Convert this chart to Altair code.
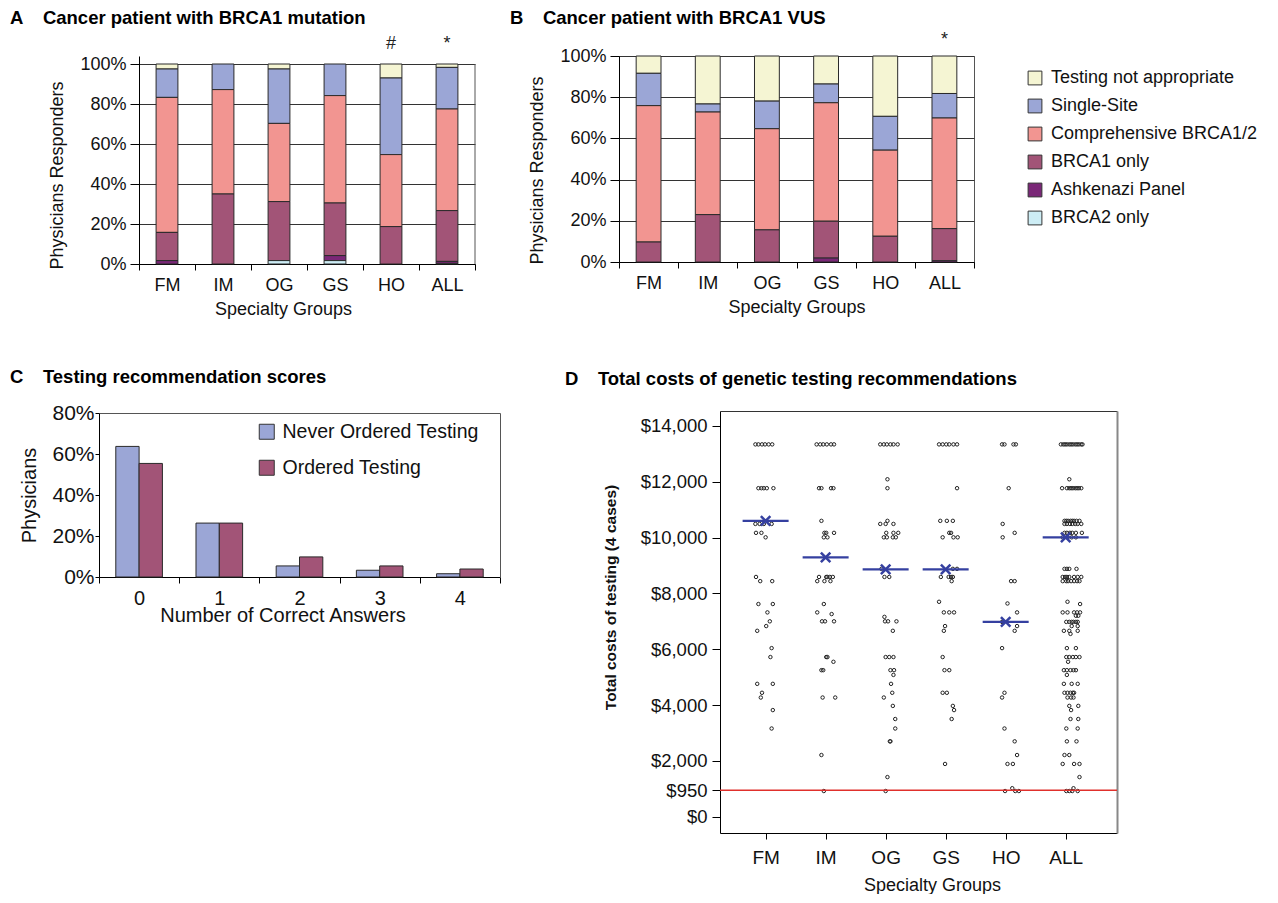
import altair as alt
import pandas as pd

FONT = "Liberation Sans"

# ---------------- shared categories ----------------
groups = ["FM", "IM", "OG", "GS", "HO", "ALL"]
test_types = ["Testing not appropriate", "Single-Site", "Comprehensive BRCA1/2",
              "BRCA1 only", "Ashkenazi Panel", "BRCA2 only"]
type_colors = ["#F5F5D3", "#9BA6D6", "#F29591", "#A25477", "#7A2777", "#CDEDF5"]
pct_ticks = [0, 20, 40, 60, 80, 100]

# ---------------- Panel A: BRCA1 mutation (% of responders) ----------------
a_not_appropriate = [2.5, 0.0, 2.5, 0.0, 7.0, 1.7]
a_single_site = [14.2, 12.8, 27.2, 15.8, 38.3, 20.8]
a_comprehensive = [67.5, 52.2, 39.1, 53.7, 36.0, 50.8]
a_brca1_only = [14.1, 35.0, 29.5, 26.3, 18.7, 25.4]
a_ashkenazi = [1.7, 0.0, 0.0, 2.5, 0.0, 1.0]
a_brca2_only = [0.0, 0.0, 1.7, 1.7, 0.0, 0.3]
a_notes = ["", "", "", "", "#", "*"]
a_note_level = 110

# ---------------- Panel B: BRCA1 VUS (% of responders) ----------------
b_not_appropriate = [8.4, 23.3, 21.9, 13.6, 29.3, 18.2]
b_single_site = [15.7, 3.9, 13.4, 9.1, 16.4, 11.9]
b_comprehensive = [66.2, 49.8, 49.1, 57.5, 41.8, 53.7]
b_brca1_only = [9.7, 23.0, 15.6, 17.9, 12.5, 15.6]
b_ashkenazi = [0.0, 0.0, 0.0, 1.9, 0.0, 0.6]
b_brca2_only = [0.0, 0.0, 0.0, 0.0, 0.0, 0.0]
b_notes = ["", "", "", "", "", "*"]
b_note_level = 108

# ---------------- Panel C: testing recommendation scores ----------------
scores = ["0", "1", "2", "3", "4"]
statuses = ["Never Ordered Testing", "Ordered Testing"]
status_colors = ["#9BA6D6", "#A25477"]
never_ordered = [63.7, 26.3, 5.4, 3.3, 1.6]
ordered = [55.4, 26.3, 9.8, 5.4, 3.9]
c_ticks = [0, 20, 40, 60, 80]

# ---------------- Panel D: total costs (value, horizontal jitter of each dot) ----------------
fm_rows = [(13340, [-0.17, -0.12, -0.06, -0.01, 0.05, 0.11]), (11770, [-0.12, -0.07, -0.03, 0.02, 0.13]),
           (10490, [-0.17, -0.10, -0.03, 0.10]), (10170, [-0.16, -0.07]), (10010, [0.0]), (8590, [-0.16]),
           (8440, [-0.09, 0.11]), (7620, [-0.12, 0.12]), (7320, [0.03]), (7000, [0.07]), (6830, [0.01]),
           (6660, [-0.14]), (6040, [0.10]), (5720, [0.08]), (4760, [-0.14, 0.12]), (4440, [-0.06]),
           (4270, [-0.08]), (3820, [0.12]), (3160, [0.10])]
im_rows = [(13340, [-0.15, -0.09, -0.04, 0.02, 0.09, 0.14]), (11770, [-0.11, -0.07, 0.09, 0.13]),
           (10600, [-0.07]), (10170, [-0.02, 0.01, 0.14]), (10010, [-0.03, 0.03]),
           (8590, [-0.11, 0.01, 0.03, 0.07, 0.12]), (8440, [-0.14, -0.02, 0.08]), (7620, [-0.03]),
           (7320, [-0.14]), (7260, [0.10]), (7000, [-0.06, -0.01, 0.14]), (5720, [0.01, 0.03]),
           (5550, [0.13]), (5250, [-0.07, -0.04]), (4270, [-0.05, 0.16]), (2210, [-0.07]), (920, [-0.03])]
og_rows = [(13340, [-0.09, -0.03, 0.02, 0.08, 0.13, 0.20]), (12090, [0.03]), (11770, [0.03]), (10600, [0.03]),
           (10490, [-0.09, 0.0, 0.13]), (10170, [0.01, 0.13, 0.21]), (10010, [-0.03, 0.02, 0.12, 0.17]),
           (8880, [-0.07]), (8590, [-0.02, 0.06]), (7160, [-0.02]), (7000, [-0.01, 0.04, 0.18]),
           (6660, [0.12]), (5720, [0.0, 0.06, 0.13]), (5250, [0.08, 0.14]), (5080, [0.13]), (4760, [0.09]),
           (4440, [0.11]), (4270, [-0.03]), (3970, [0.12]), (3500, [0.16]), (3160, [0.16]),
           (2700, [0.07, 0.08]), (1420, [0.03]), (920, [0.0])]
gs_rows = [(13340, [-0.11, -0.05, 0.01, 0.06, 0.13, 0.19]), (11770, [0.19]), (10600, [-0.09, 0.02, 0.12]),
           (10170, [0.06, 0.09]), (10010, [-0.05, 0.13, 0.20]), (8880, [0.12, 0.19]),
           (8590, [-0.08, 0.05, 0.09, 0.12]), (8440, [0.10]), (7700, [-0.11]), (7320, [-0.03, 0.06, 0.14]),
           (6830, [-0.01]), (6660, [-0.03]), (5720, [-0.05]), (5250, [-0.02, 0.06]), (4440, [-0.05, 0.02]),
           (3970, [0.12]), (3820, [0.14]), (3500, [0.10]), (1890, [-0.01])]
ho_rows = [(13340, [-0.06, -0.02, 0.13, 0.17]), (11770, [0.05]), (10490, [-0.05]), (10170, [0.15]),
           (10010, [-0.05]), (8440, [0.09, 0.15]), (7640, [0.03]), (7320, [0.19]), (6980, [-0.06]),
           (6830, [0.19]), (6660, [0.15]), (6040, [-0.06]), (4440, [-0.02]), (4270, [-0.06]),
           (3160, [-0.02]), (2700, [0.15]), (2210, [0.19]), (1890, [0.03, 0.12]), (1020, [0.11]),
           (920, [-0.01, 0.16, 0.22])]
all_rows = [(13340, [-0.08, -0.04, -0.01, 0.02, 0.06, 0.09, 0.12, 0.16, 0.19, 0.22, 0.26, 0.28]),
            (12090, [0.06]), (11770, [-0.06, 0.02, 0.06, 0.09, 0.12, 0.16, 0.19, 0.22, 0.26]),
            (10600, [-0.02, 0.01, 0.04, 0.08, 0.11, 0.14, 0.18, 0.23]),
            (10490, [-0.02, 0.02, 0.07, 0.11, 0.16, 0.20, 0.26]), (10170, [-0.02, 0.02, 0.07, 0.11, 0.17, 0.27]),
            (10010, [-0.05, 0.03, 0.10, 0.17]), (8880, [-0.02, 0.02, 0.06, 0.18]),
            (8590, [-0.05, -0.01, 0.02, 0.06, 0.14, 0.20, 0.26]), (8440, [-0.05, 0.01, 0.04, 0.09, 0.14, 0.19, 0.23]),
            (7700, [0.03]), (7620, [0.24]), (7320, [-0.05, 0.03, 0.14, 0.19, 0.24]), (7200, [0.17, 0.21]),
            (6980, [0.01, 0.06, 0.10, 0.13, 0.17, 0.20]), (6830, [0.10, 0.20]), (6660, [-0.03, 0.06, 0.20]),
            (6550, [0.08]), (6040, [0.02, 0.17]), (5720, [0.01, 0.06, 0.12, 0.17, 0.23]), (5550, [0.04]),
            (5250, [-0.03, 0.02, 0.08, 0.13, 0.17]), (5080, [0.02]), (4760, [-0.03, 0.10, 0.20]),
            (4440, [-0.02, 0.03, 0.08, 0.12, 0.14]), (4270, [0.03, 0.09, 0.13]), (3970, [0.06, 0.21]),
            (3820, [0.09]), (3500, [0.08, 0.21]), (3160, [0.01, 0.20]), (2700, [0.02, 0.18]),
            (2210, [-0.02, 0.06]), (1890, [-0.05, 0.14, 0.23]), (1420, [0.23]), (1020, [0.13]),
            (920, [0.01, 0.06, 0.11, 0.20])]
group_means = [10600, 9290, 8860, 8860, 6980, 10010]
threshold_cost = [950]
cost_ticks = [0, 950, 2000, 4000, 6000, 8000, 10000, 12000, 14000]
d_cost_domain = [-584, 14536]
d_x_domain = [-0.76, 5.855]

# ---------------- build tables ----------------
def pct_table(series):
    rows = []
    for ti, (t, vals) in enumerate(zip(test_types, series)):
        for g, v in zip(groups, vals):
            rows.append({"group": g, "type": t, "value": v, "order": len(test_types) - 1 - ti})
    return pd.DataFrame(rows)


def note_table(notes, level):
    return pd.DataFrame([{"group": g, "value": level, "note": n} for g, n in zip(groups, notes) if n])


df_a = pct_table([a_not_appropriate, a_single_site, a_comprehensive, a_brca1_only, a_ashkenazi, a_brca2_only])
df_b = pct_table([b_not_appropriate, b_single_site, b_comprehensive, b_brca1_only, b_ashkenazi, b_brca2_only])

df_c = pd.DataFrame(
    [{"score": s, "status": statuses[0], "pct": v} for s, v in zip(scores, never_ordered)]
    + [{"score": s, "status": statuses[1], "pct": v} for s, v in zip(scores, ordered)])

d_points = []
for gi, rows in enumerate([fm_rows, im_rows, og_rows, gs_rows, ho_rows, all_rows]):
    for cost, jits in rows:
        for j in jits:
            d_points.append({"idx": gi, "group": groups[gi], "cost": cost, "jit": j})
df_d = pd.DataFrame(d_points)
df_mean = pd.DataFrame({"idx": list(range(len(groups))), "mean": group_means})
df_thr = pd.DataFrame({"cost": threshold_cost})

GAP = "\u2002\u00a0\u00a0"
FRAME = "#555"


def title_params(text, dx, offset):
    return alt.TitleParams(text, anchor="start", frame="group", dx=dx, offset=offset,
                           fontSize=18.5, fontWeight="bold", font=FONT, color="#000")


def stacked_panel(df, notes, title, dx, offset, w, h, band, legend, y_top, framed, x_title_x, y_title_y):
    x = alt.X("group:N", sort=groups, title="Specialty Groups",
              scale=alt.Scale(paddingInner=0, paddingOuter=0),
              axis=alt.Axis(tickBand="extent", labelAngle=0, labelFontSize=18, titleFontSize=18,
                            tickSize=6, labelPadding=6, titlePadding=6, grid=False, titleX=x_title_x))
    y = alt.Y("value:Q", stack="zero", title="Physicians Responders",
              scale=alt.Scale(domain=[0, y_top], nice=False),
              axis=alt.Axis(values=pct_ticks, tickCount=len(pct_ticks) + 4, labelExpr="datum.value + '%'",
                            labelOverlap=False, grid=True, gridColor="#333", gridOpacity=1,
                            labelFontSize=18, titleFontSize=18, tickSize=9, labelPadding=4,
                            titlePadding=13, titleY=y_title_y))
    bars = alt.Chart(df).transform_filter("datum.value > 0").mark_bar(
        stroke="#2a2a2a", strokeWidth=1, width=alt.RelativeBandSize(band)).encode(
        x=x, y=y,
        color=alt.Color("type:N", scale=alt.Scale(domain=test_types, range=type_colors), legend=legend),
        order=alt.Order("order:Q", sort="ascending"))
    note_layer = alt.Chart(notes).mark_text(fontSize=18, font=FONT, color="#222").encode(
        x=alt.X("group:N", sort=groups), y=alt.Y("value:Q", stack=None), text="note:N")
    layers = [bars, note_layer]
    props = dict(width=w, height=h, title=title_params(title, dx, offset))
    if not framed:
        # right-hand frame edge of the 0-100% area, at the end of the last band
        edge = alt.Chart(pd.DataFrame({"group": [groups[-1]], "lo": [0], "hi": [100]})).mark_rule(
            color=FRAME, strokeWidth=1).encode(
            x=alt.X("group:N", sort=groups, bandPosition=1), y=alt.Y("lo:Q"), y2="hi:Q")
        layers.append(edge)
        props["view"] = alt.ViewBackground(stroke="transparent", strokeWidth=0)
    return alt.layer(*layers).properties(**props)


legend_b = alt.Legend(orient="none", legendX=407, legendY=13, title=None, symbolType="square",
                      symbolSize=190, symbolStrokeColor="#333", symbolStrokeWidth=1,
                      labelFontSize=18, labelFont=FONT, labelColor="#111", labelLimit=400,
                      rowPadding=10, labelOffset=7, padding=0)

# panel A's plot area starts 8px above its 100% line (its row is top-aligned with panel B)
panel_a = stacked_panel(df_a, note_table(a_notes, a_note_level),
                        "A" + GAP + "Cancer patient with BRCA1 mutation", -129, 8, 336, 208, 0.39, None,
                        104, False, 144, 119)
panel_b = stacked_panel(df_b, note_table(b_notes, b_note_level),
                        "B" + GAP + "Cancer patient with BRCA1 VUS", -109, 3.5, 355, 206, 0.42, legend_b,
                        100, True, 177.5, 114)

# ---------------- Panel C ----------------
# its column is aligned with panel A, so the band range starts 40px left of the view origin
c_bars = alt.Chart(df_c).mark_bar(stroke="#2a2a2a", strokeWidth=1).encode(
    x=alt.X("score:N", sort=scores, title="Number of Correct Answers",
            scale=alt.Scale(paddingInner=0, paddingOuter=0, range=[-40, 361]),
            axis=alt.Axis(tickBand="extent", labelAngle=0, labelFontSize=20, titleFontSize=20,
                          tickSize=6, labelPadding=5, titlePadding=-3, grid=False, titleX=143.5)),
    xOffset=alt.XOffset("status:N", sort=statuses, scale=alt.Scale(paddingInner=0, paddingOuter=0.72)),
    y=alt.Y("pct:Q", title="Physicians", scale=alt.Scale(domain=[0, 80], nice=False),
            axis=alt.Axis(values=c_ticks, tickCount=len(c_ticks) + 4, labelExpr="datum.value + '%'", grid=False,
                          labelOverlap=False, labelFontSize=21, titleFontSize=20, tickSize=4,
                          labelPadding=1, titlePadding=12, offset=40)),
    color=alt.Color("status:N", scale=alt.Scale(domain=statuses, range=status_colors),
                    legend=alt.Legend(orient="none", legendX=118, legendY=9, title=None, symbolType="square",
                                      symbolSize=225, symbolStrokeColor="#333", symbolStrokeWidth=1,
                                      labelFontSize=19.5, labelFont=FONT, labelColor="#111",
                                      labelLimit=400, rowPadding=15, labelOffset=6, padding=0)),
)
c_frame = alt.Chart(df_c).mark_point(opacity=0).encode(
    x=alt.X("score:N", sort=scores,
            axis=alt.Axis(orient="top", labels=False, ticks=False, title=None, grid=False, domainColor=FRAME)),
    y=alt.Y("pct:Q", axis=alt.Axis(orient="right", labels=False, ticks=False, title=None, grid=False,
                                   domainColor=FRAME)))
panel_c = alt.layer(c_bars, c_frame).resolve_axis(x="independent", y="independent").properties(
    width=361, height=164, view=alt.ViewBackground(stroke="transparent", strokeWidth=0),
    title=title_params("C" + GAP + "Testing recommendation scores", -129, 16))

# ---------------- Panel D ----------------
# its column is aligned with panel B, so the data range starts 101px right of the view origin
label_expr_groups = "[" + ",".join("'" + g + "'" for g in groups) + "][datum.value]"
x_d = alt.X("xpos:Q", title="Specialty Groups",
            scale=alt.Scale(domain=d_x_domain, range=[101, 498], nice=False, zero=False),
            axis=alt.Axis(values=list(range(len(groups))), tickCount=10, labelExpr=label_expr_groups, grid=False,
                          labelFontSize=19, titleFontSize=18, tickSize=6, labelPadding=9, titlePadding=9,
                          titleX=313))
y_d = alt.Y("cost:Q", title="Total costs of testing (4 cases)",
            scale=alt.Scale(domain=d_cost_domain, nice=False, zero=False),
            axis=alt.Axis(values=cost_ticks, tickCount=len(cost_ticks) + 4,
                          labelExpr="'$' + format(datum.value, ',')", grid=False,
                          labelOverlap=False, labelFontSize=18.5, titleFontSize=15.5, titleFontWeight="bold",
                          tickSize=8, labelPadding=5, titlePadding=22, offset=-101, titleY=186))

dots = alt.Chart(df_d).transform_calculate(xpos="datum.idx + datum.jit").mark_point(
    shape="circle", filled=False, size=12, color="#222", strokeWidth=1, opacity=1).encode(x=x_d, y=y_d)
thr = alt.Chart(df_thr).mark_rule(color="#E0302C", strokeWidth=1.5).encode(
    x=alt.XDatum(d_x_domain[0], type="quantitative", axis=None), x2=alt.X2Datum(d_x_domain[1]),
    y=alt.Y("cost:Q", axis=None))
mean_line = alt.Chart(df_mean).transform_calculate(xpos="datum.idx").mark_tick(
    orient="horizontal", size=46, thickness=2.2, color="#3540A0", opacity=1).encode(
    x=alt.X("xpos:Q", axis=None), y=alt.Y("mean:Q", axis=None))
mean_x = alt.Chart(df_mean).transform_calculate(xpos="datum.idx").mark_point(
    shape="M-1,-1L1,1M1,-1L-1,1", filled=False, size=90, strokeWidth=2.5, color="#3540A0", opacity=1
).encode(x=alt.X("xpos:Q", axis=None), y=alt.Y("mean:Q", axis=None))
d_frame = alt.Chart(df_d).transform_calculate(xpos="datum.idx").mark_point(opacity=0).encode(
    x=alt.X("xpos:Q", axis=alt.Axis(orient="top", labels=False, ticks=False, title=None, grid=False,
                                    domainColor="#333")),
    y=alt.Y("cost:Q", axis=alt.Axis(orient="right", labels=False, ticks=False, title=None, grid=False,
                                    domainColor="#888", domainWidth=2)))

panel_d = alt.layer(dots, thr, mean_line, mean_x, d_frame).resolve_axis(
    x="independent", y="independent").properties(
    width=498, height=422, view=alt.ViewBackground(stroke="transparent", strokeWidth=0),
    title=title_params("D" + GAP + "Total costs of genetic testing recommendations", -54, 23))

# two columns: A over C, B over D (views in a column share their left origin)
col_left = alt.vconcat(panel_a, panel_c, spacing=49).resolve_scale(color="independent")
col_right = alt.vconcat(panel_b, panel_d, spacing=52).resolve_scale(color="independent")

chart = alt.hconcat(col_left, col_right, spacing=-31).resolve_scale(color="independent").properties(
    padding={"left": 2, "top": 0, "right": 2, "bottom": 0}
).configure_view(stroke=FRAME, strokeWidth=1).configure_axis(
    domainColor="#000", tickColor="#000", labelColor="#111", titleColor="#111",
    labelFont=FONT, titleFont=FONT, titleFontWeight="normal"
).configure_text(font=FONT)

chart.save("out.html", embed_options={"renderer": "svg", "actions": False})
